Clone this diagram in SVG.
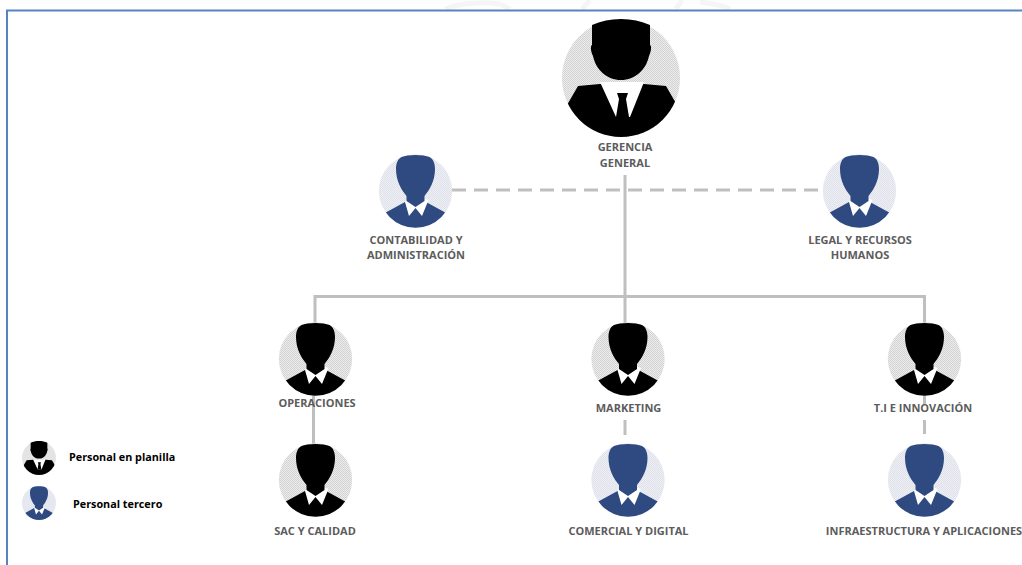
<svg xmlns="http://www.w3.org/2000/svg" width="1022" height="565" viewBox="0 0 1022 565">
<style>
.l{font-family:"Open Sans","Liberation Sans",sans-serif;font-weight:700;font-size:11px;fill:#5c5c5c;text-anchor:middle}
.k{font-family:"Open Sans","Liberation Sans",sans-serif;font-weight:700;font-size:10.8px;fill:#000}
.c{fill:none;stroke:#bfbfbf;stroke-width:3}
.d{stroke-dasharray:14 8}
.blk{fill:#000}.blu{fill:#2f4a80}
.bgk{fill:url(#pk)}.bgb{fill:url(#pb)}
</style>
<defs>
<pattern id="pk" width="2" height="2" patternUnits="userSpaceOnUse"><rect width="2" height="2" fill="#ededed"/><rect width="1" height="1" fill="#d2d2d2"/><rect x="1" y="1" width="1" height="1" fill="#d2d2d2"/></pattern>
<pattern id="pb" width="2" height="2" patternUnits="userSpaceOnUse"><rect width="2" height="2" fill="#eff0f5"/><rect width="1" height="1" fill="#dfe1ea"/><rect x="1" y="1" width="1" height="1" fill="#dfe1ea"/></pattern>
<clipPath id="cs"><circle r="36.7"/></clipPath>
<clipPath id="cb"><circle r="59"/></clipPath>
<g id="small">
<g clip-path="url(#cs)">
<path d="M-38 26L-10.500 11H10.500L38 26V40H-38Z"/>
<path d="M-10.500 11L-8 7H8L13 9L6.500 25L0 17L-6.500 25Z" fill="#fff"/>
</g>
<path d="M-9 5C-14 -1 -19.500 -10 -19.500 -22C-19.500 -27 -18 -32 -14 -34C-8 -36.700 8 -36.700 14 -34C18 -32 19.500 -27 19.500 -22C19.500 -10 14 -1 9 5V10L0 16L-9 10Z"/>
</g>
<g id="big">
<g clip-path="url(#cb)">
<path d="M-58 34L-43 8L-21 6H23L45 8L60 34V62H-60Z"/>
<path d="M-21 4H23L9 39H-5Z" fill="#fff"/>
<path d="M-4 15H7L5 21L8 39H-5L-2 21Z"/>
</g>
<path d="M-29 -53C-12 -61 12 -61 29 -53V-33C31 -32 30 -26 28 -22C25 -8 14 2 0 2C-14 2 -25 -8 -28 -22C-30 -26 -31 -32 -29 -33Z"/>
</g>
</defs>
<rect width="1022" height="565" fill="#fff"/>
<g fill="none" stroke="#f5f5f5" stroke-width="5">
<path d="M445 9Q470 0 500 4L510 9"/><path d="M582 9L590 0"/><path d="M676 9L682 0"/><path d="M700 2Q720 4 730 9"/>
</g>
<path d="M7 565V10.500H1022" fill="none" stroke="#5585c0" stroke-width="2"/>
<g id="connectors">
<path class="c" d="M625 175V325M315 325V296.500H924.500V325"/>
<path class="c d" d="M452 190H822"/>
<path class="c" d="M313.500 395V445M625 420V435M924.500 395V405M924.500 420V434"/>
</g>
<g id="gerencia"><circle class="bgk" cx="621" cy="78" r="59"/><use href="#big" x="621" y="78"/><text class="l" x="625" y="151">GERENCIA</text><text class="l" x="625" y="167">GENERAL</text></g>
<g id="contabilidad" class="blu"><circle class="bgb" cx="415.500" cy="191" r="36.700"/><use href="#small" x="415.500" y="191"/><text class="l" x="416" y="244">CONTABILIDAD Y</text><text class="l" x="416" y="259">ADMINISTRACIÓN</text></g>
<g id="legal" class="blu"><circle class="bgb" cx="859.500" cy="191" r="36.700"/><use href="#small" x="859.500" y="191"/><text class="l" x="860" y="244">LEGAL Y RECURSOS</text><text class="l" x="860" y="259">HUMANOS</text></g>
<g id="operaciones"><circle class="bgk" cx="315.500" cy="359" r="36.700"/><use href="#small" x="315.500" y="359"/><text class="l" x="317" y="407">OPERACIONES</text></g>
<g id="marketing"><circle class="bgk" cx="628" cy="359" r="36.700"/><use href="#small" x="628" y="359"/><text class="l" x="628.500" y="412">MARKETING</text></g>
<g id="ti"><circle class="bgk" cx="924.500" cy="359" r="36.700"/><use href="#small" x="924.500" y="359"/><text class="l" x="923" y="412">T.I E INNOVACIÓN</text></g>
<g id="sac"><circle class="bgk" cx="315.500" cy="480" r="36.700"/><use href="#small" x="315.500" y="480"/><text class="l" x="315" y="535">SAC Y CALIDAD</text></g>
<g id="comercial" class="blu"><circle class="bgb" cx="628" cy="480" r="36.700"/><use href="#small" x="628" y="480"/><text class="l" x="628.500" y="535">COMERCIAL Y DIGITAL</text></g>
<g id="infra" class="blu"><circle class="bgb" cx="924.500" cy="480" r="36.700"/><use href="#small" x="924.500" y="480"/><text class="l" x="924" y="535">INFRAESTRUCTURA Y APLICACIONES</text></g>
<g id="legend-planilla"><circle cx="39" cy="458" r="17" fill="#e4e4e4"/><use href="#big" transform="translate(39 458) scale(.288)"/><text class="k" x="69" y="461">Personal en planilla</text></g>
<g id="legend-tercero" class="blu"><circle cx="39" cy="503" r="17" fill="#e6e8f0"/><use href="#small" transform="translate(39 503) scale(.463)"/><text class="k" x="73" y="508">Personal tercero</text></g>
</svg>
